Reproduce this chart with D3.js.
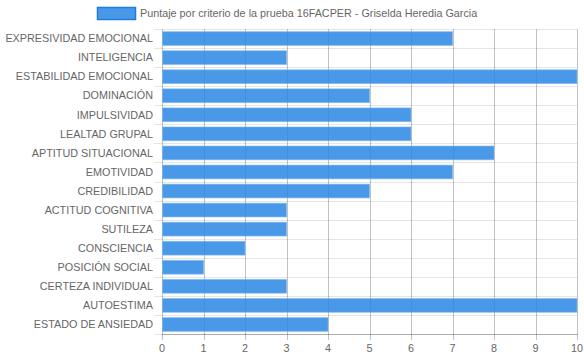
<!DOCTYPE html>
<html><head><meta charset="utf-8">
<script src="https://cdn.jsdelivr.net/npm/d3@7"></script>
<style>body{margin:0;background:#fff}svg{display:block}text{font-family:"Liberation Sans",Arial,sans-serif}</style>
</head><body><svg id="c" width="584" height="359"></svg>
<script>
const categories = ["EXPRESIVIDAD EMOCIONAL","INTELIGENCIA","ESTABILIDAD EMOCIONAL","DOMINACIÓN","IMPULSIVIDAD","LEALTAD GRUPAL","APTITUD SITUACIONAL","EMOTIVIDAD","CREDIBILIDAD","ACTITUD COGNITIVA","SUTILEZA","CONSCIENCIA","POSICIÓN SOCIAL","CERTEZA INDIVIDUAL","AUTOESTIMA","ESTADO DE ANSIEDAD"];
const values = [7,3,10,5,6,6,8,7,5,3,3,2,1,3,10,4];
const xTicks = [0,1,2,3,4,5,6,7,8,9,10];
const seriesName = "Puntaje por criterio de la prueba 16FACPER - Griselda Heredia Garcia";

const svg = d3.select("#c");
const L = 162, R = 577, T = 29, B = 334;
const x = d3.scaleLinear().domain([0,10]).range([L,R]);
const y = d3.scaleBand().domain(categories).range([T,B]);
const inner = 0.72;

const bounds = categories.map(c => y(c)).concat([B]);
svg.append("g").selectAll("line").data(bounds).join("line")
  .attr("x1", L-8).attr("x2", R).attr("y1", d => Math.round(d)+0.5).attr("y2", d => Math.round(d)+0.5)
  .attr("stroke", "rgba(0,0,0,0.1)").attr("stroke-width", 1);

svg.append("g").selectAll("line").data(xTicks).join("line")
  .attr("x1", d => Math.round(x(d))+0.5).attr("x2", d => Math.round(x(d))+0.5)
  .attr("y1", T).attr("y2", B+6)
  .attr("stroke", "rgba(0,0,0,0.24)").attr("stroke-width", 1);

const bh = y.bandwidth()*inner;
svg.append("g").selectAll("rect").data(values).join("rect")
  .attr("x", x(0)+0.5)
  .attr("y", (d,i) => y(categories[i]) + (y.bandwidth()-bh)/2)
  .attr("width", d => x(d)-x(0)-0.5)
  .attr("height", bh)
  .attr("fill", "rgba(42,135,228,0.85)")
  .attr("stroke", "rgba(120,180,240,0.6)").attr("stroke-width", 1);

svg.append("line").attr("x1", L).attr("x2", R+0.5).attr("y1", B+0.5).attr("y2", B+0.5)
  .attr("stroke", "rgba(0,0,0,0.25)");

const fs = 10.8;
svg.append("g").selectAll("text").data(categories).join("text")
  .attr("x", 153).attr("y", d => y(d)+y.bandwidth()/2)
  .attr("dy", "0.35em").attr("text-anchor", "end")
  .attr("font-size", fs).attr("fill", "#666").text(d => d);

svg.append("g").selectAll("text").data(xTicks).join("text")
  .attr("x", d => x(d)).attr("y", 348).attr("dy", "0.35em")
  .attr("text-anchor", "middle").attr("font-size", fs).attr("fill", "#666").text(d => d);

svg.append("rect").attr("x", 97.5).attr("y", 7.5).attr("width", 38).attr("height", 12)
  .attr("fill", "rgba(42,135,228,0.85)").attr("stroke", "#1e7be0").attr("stroke-width", 1.5);
svg.append("text").attr("x", 140).attr("y", 13.5).attr("dy", "0.35em")
  .attr("font-size", fs).attr("fill", "#666").text(seriesName);
</script></body></html>
